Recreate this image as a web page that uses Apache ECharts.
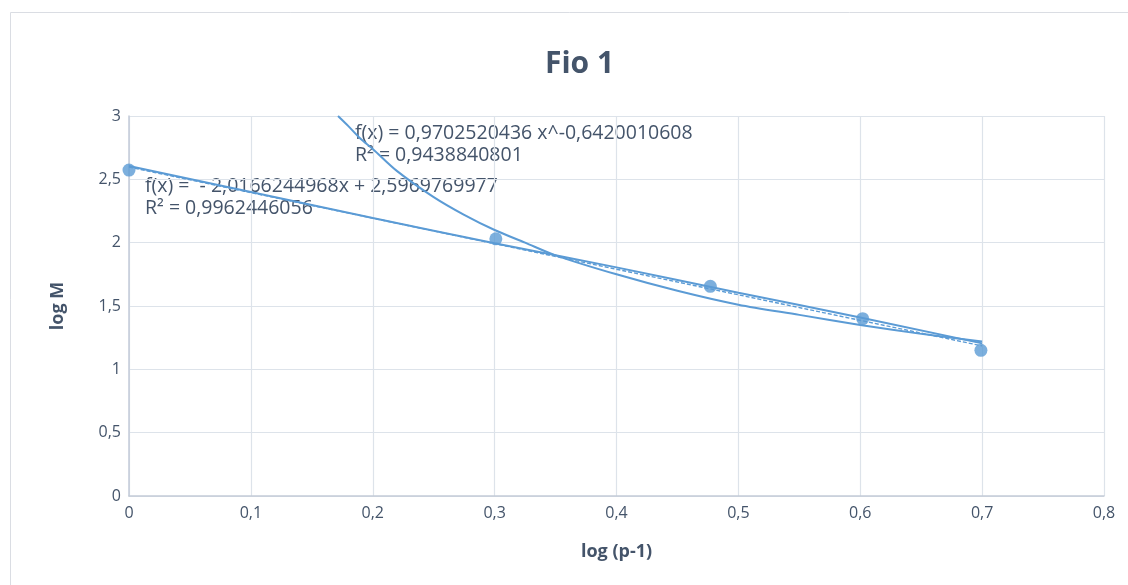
<!DOCTYPE html>
<html>
<head>
<meta charset="utf-8">
<script src="https://cdn.jsdelivr.net/npm/echarts@6/dist/echarts.min.js"></script>
<style>html,body{margin:0;padding:0;background:#fff;}#c{width:1128px;height:585px;}</style>
</head>
<body>
<div id="c"></div>
<script>
// Data
const pointsX = [0, 0.301, 0.477, 0.602, 0.699];
const pointsY = [2.573, 2.03, 1.655, 1.40, 1.15];
// dashed linear trend line (endpoints)
const linX = [0, 0.7];
const linY = [2.597, 1.185];
// second solid line
const solidX = [0, 0.1, 0.2, 0.3, 0.4, 0.5, 0.6, 0.7];
const solidY = [2.605, 2.40, 2.195, 1.995, 1.805, 1.605, 1.41, 1.205];
// power curve
const powX = [0.1715, 0.18, 0.19, 0.2, 0.22, 0.25, 0.275, 0.3, 0.325, 0.35, 0.4, 0.45, 0.5, 0.55, 0.6, 0.65, 0.7];
const powY = [3.0, 2.92, 2.82, 2.74, 2.565, 2.36, 2.22, 2.10, 2.0, 1.90, 1.75, 1.62, 1.51, 1.43, 1.35, 1.28, 1.22];
const xTicks = { min: 0, max: 0.8, interval: 0.1 };
const yTicks = { min: 0, max: 3, interval: 0.5 };
const labelPow = ['f(x) = 0,9702520436 x^-0,6420010608', 'R² = 0,9438840801'];
const labelLin = ['f(x) =  - 2,0166244968x + 2,5969769977', 'R² = 0,9962446056'];

const zip = (a, b) => a.map((v, i) => [v, b[i]]);
const blue = '#5b9bd5';
const txt = '#44546a';
const font = '"Open Sans", "Noto Sans", sans-serif';
const comma = v => String(Math.round(v * 10) / 10).replace('.', ',');

const chart = echarts.init(document.getElementById('c'));
chart.setOption({
  animation: false,
  backgroundColor: '#fff',
  title: {
    text: 'Fio 1', left: 540, top: 44,
    textStyle: { fontFamily: font, fontSize: 30, fontWeight: 'bold', color: txt }
  },
  grid: { left: 129, right: 24, top: 116, bottom: 89 },
  xAxis: {
    type: 'value', min: xTicks.min, max: xTicks.max, interval: xTicks.interval,
    name: 'log (p-1)', nameLocation: 'middle', nameGap: 47,
    nameTextStyle: { fontFamily: font, fontSize: 18, fontWeight: 'bold', color: txt },
    axisLine: { show: true, lineStyle: { color: '#c3cbd8', width: 1.5 } },
    axisTick: { show: false },
    axisLabel: { formatter: comma, fontFamily: font, fontSize: 16, color: txt, margin: 9 },
    splitLine: { show: true, lineStyle: { color: '#dde3ea', width: 1.2 } }
  },
  yAxis: {
    type: 'value', min: yTicks.min, max: yTicks.max, interval: yTicks.interval,
    name: 'log M', nameLocation: 'middle', nameGap: 62,
    nameTextStyle: { fontFamily: font, fontSize: 18, fontWeight: 'bold', color: txt },
    axisLine: { show: true, lineStyle: { color: '#c3cbd8', width: 1.5 } },
    axisTick: { show: false },
    axisLabel: { formatter: v => String(v).replace('.', ','), fontFamily: font, fontSize: 16, color: txt, margin: 8 },
    splitLine: { show: true, lineStyle: { color: '#dde3ea', width: 1.2 } }
  },
  series: [
    {
      type: 'line', data: zip(solidX, solidY), smooth: true, symbol: 'none',
      lineStyle: { color: blue, width: 2 }, z: 2
    },
    {
      type: 'line', data: zip(powX, powY), smooth: 0.3, symbol: 'none',
      lineStyle: { color: blue, width: 2 }, z: 2
    },
    {
      type: 'line', data: zip(linX, linY), symbol: 'none',
      lineStyle: { color: blue, width: 1.4, type: [4, 2] }, z: 3
    },
    {
      type: 'scatter', data: zip(pointsX, pointsY), symbolSize: 13,
      itemStyle: { color: blue }, z: 5
    }
  ],
  graphic: [
    { type: 'rect', shape: { x: 10.5, y: 12.5, width: 1140, height: 600 },
      style: { fill: 'none', stroke: '#dadde3', lineWidth: 1 }, silent: true, z: -1 },
    { type: 'text', left: 355, top: 122, style: { text: labelPow.join('\n'), fill: txt, font: '19.5px ' + font, lineHeight: 22 } },
    { type: 'text', left: 145, top: 175, style: { text: labelLin.join('\n'), fill: txt, font: '19.5px ' + font, lineHeight: 22 } }
  ]
});
</script>
</body>
</html>
